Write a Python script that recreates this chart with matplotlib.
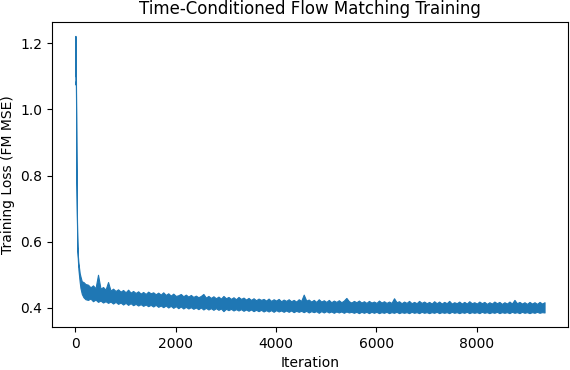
import numpy as np
import matplotlib
matplotlib.use('Agg')
import matplotlib.pyplot as plt

# Early part of training: steep drop (iteration, upper / lower edge of the noisy loss)
early_iters = [0, 1, 3, 5, 8, 10, 12, 14, 17, 20, 24, 28, 34, 40, 50, 60, 70, 85, 100, 127, 160, 200]
early_hi = [1.222, 1.110, 1.105, 1.100, 1.108, 1.095, 1.040, 0.990, 0.900, 0.820, 0.760,
            0.700, 0.630, 0.585, 0.555, 0.535, 0.523, 0.505, 0.495, 0.480, 0.478, 0.472]
early_lo = [1.080, 1.075, 1.078, 1.082, 1.085, 1.070, 1.020, 0.975, 0.885, 0.805, 0.745,
            0.685, 0.615, 0.570, 0.540, 0.515, 0.500, 0.478, 0.460, 0.442, 0.432, 0.426]

# Rest of training, every 50 iterations from 250 to 9350 (one row = 500 iterations)
late_iters = np.arange(250, 9351, 50)
late_hi = [0.470, 0.462, 0.468, 0.459, 0.500, 0.458, 0.463, 0.455, 0.478, 0.452,
           0.458, 0.451, 0.456, 0.449, 0.454, 0.447, 0.455, 0.446, 0.451, 0.445,
           0.450, 0.443, 0.448, 0.442, 0.449, 0.444, 0.447, 0.441, 0.446, 0.440,
           0.447, 0.439, 0.444, 0.437, 0.443, 0.436, 0.438, 0.442, 0.435, 0.440,
           0.434, 0.439, 0.433, 0.437, 0.432, 0.436, 0.442, 0.431, 0.436, 0.430,
           0.435, 0.429, 0.434, 0.428, 0.436, 0.429, 0.433, 0.427, 0.432, 0.426,
           0.433, 0.427, 0.431, 0.425, 0.430, 0.424, 0.429, 0.423, 0.428, 0.424,
           0.427, 0.422, 0.428, 0.421, 0.426, 0.422, 0.427, 0.420, 0.425, 0.421,
           0.426, 0.420, 0.424, 0.419, 0.426, 0.421, 0.440, 0.422, 0.425, 0.419,
           0.424, 0.418, 0.426, 0.419, 0.423, 0.418, 0.424, 0.417, 0.422, 0.418,
           0.423, 0.417, 0.422, 0.430, 0.420, 0.416, 0.421, 0.417, 0.422, 0.416,
           0.420, 0.415, 0.421, 0.416, 0.419, 0.415, 0.422, 0.416, 0.420, 0.415,
           0.419, 0.415, 0.429, 0.417, 0.420, 0.414, 0.419, 0.415, 0.421, 0.414,
           0.418, 0.414, 0.421, 0.415, 0.419, 0.414, 0.418, 0.413, 0.420, 0.414,
           0.419, 0.413, 0.418, 0.414, 0.421, 0.413, 0.417, 0.414, 0.419, 0.413,
           0.418, 0.413, 0.420, 0.414, 0.417, 0.413, 0.419, 0.414, 0.418, 0.412,
           0.417, 0.413, 0.419, 0.414, 0.418, 0.412, 0.417, 0.413, 0.419, 0.413,
           0.424, 0.414, 0.418, 0.413, 0.417, 0.412, 0.418, 0.413, 0.417, 0.412,
           0.418, 0.413, 0.417]
late_lo = [0.424, 0.428, 0.420, 0.425, 0.418, 0.422, 0.416, 0.420, 0.415, 0.419,
           0.413, 0.418, 0.412, 0.416, 0.410, 0.415, 0.409, 0.414, 0.408, 0.412,
           0.407, 0.411, 0.406, 0.410, 0.405, 0.409, 0.404, 0.409, 0.403, 0.407,
           0.402, 0.407, 0.401, 0.406, 0.400, 0.405, 0.399, 0.404, 0.398, 0.403,
           0.398, 0.402, 0.397, 0.401, 0.396, 0.401, 0.395, 0.400, 0.395, 0.399,
           0.394, 0.399, 0.394, 0.398, 0.390, 0.397, 0.393, 0.397, 0.392, 0.396,
           0.392, 0.396, 0.391, 0.395, 0.391, 0.395, 0.390, 0.394, 0.390, 0.394,
           0.389, 0.393, 0.389, 0.393, 0.388, 0.393, 0.389, 0.392, 0.388, 0.392,
           0.388, 0.392, 0.387, 0.391, 0.388, 0.391, 0.387, 0.391, 0.386, 0.390,
           0.387, 0.390, 0.385, 0.390, 0.386, 0.390, 0.386, 0.389, 0.385, 0.389,
           0.386, 0.389, 0.385, 0.389, 0.386, 0.388, 0.385, 0.388, 0.384, 0.388,
           0.385, 0.388, 0.384, 0.388, 0.385, 0.388, 0.384, 0.387, 0.385, 0.388,
           0.384, 0.387, 0.385, 0.388, 0.384, 0.387, 0.385, 0.387, 0.384, 0.388,
           0.385, 0.387, 0.384, 0.388, 0.385, 0.387, 0.384, 0.387, 0.385, 0.388,
           0.384, 0.387, 0.385, 0.387, 0.384, 0.388, 0.385, 0.387, 0.384, 0.387,
           0.385, 0.388, 0.384, 0.387, 0.385, 0.387, 0.384, 0.388, 0.385, 0.387,
           0.384, 0.387, 0.385, 0.388, 0.384, 0.387, 0.385, 0.387, 0.384, 0.388,
           0.385, 0.387, 0.384, 0.388, 0.385, 0.387, 0.384, 0.387, 0.385, 0.388,
           0.385, 0.387, 0.386]

iters = np.concatenate([early_iters, late_iters])
loss_hi = np.concatenate([early_hi, late_hi])
loss_lo = np.concatenate([early_lo, late_lo])

fig = plt.figure(figsize=(5.7, 3.7), dpi=100)
ax = fig.add_axes([0.0912, 0.1162, 0.9053, 0.8243])

color = '#1f77b4'
ax.fill_between(iters, loss_lo, loss_hi, facecolor=color, edgecolor=color, linewidth=0.8)

ax.set_title('Time-Conditioned Flow Matching Training')
ax.set_xlabel('Iteration')
ax.set_ylabel('Training Loss (FM MSE)')
ax.set_xticks([0, 2000, 4000, 6000, 8000])
ax.set_yticks([0.4, 0.6, 0.8, 1.0, 1.2])

fig.savefig('out.png', dpi=100)
